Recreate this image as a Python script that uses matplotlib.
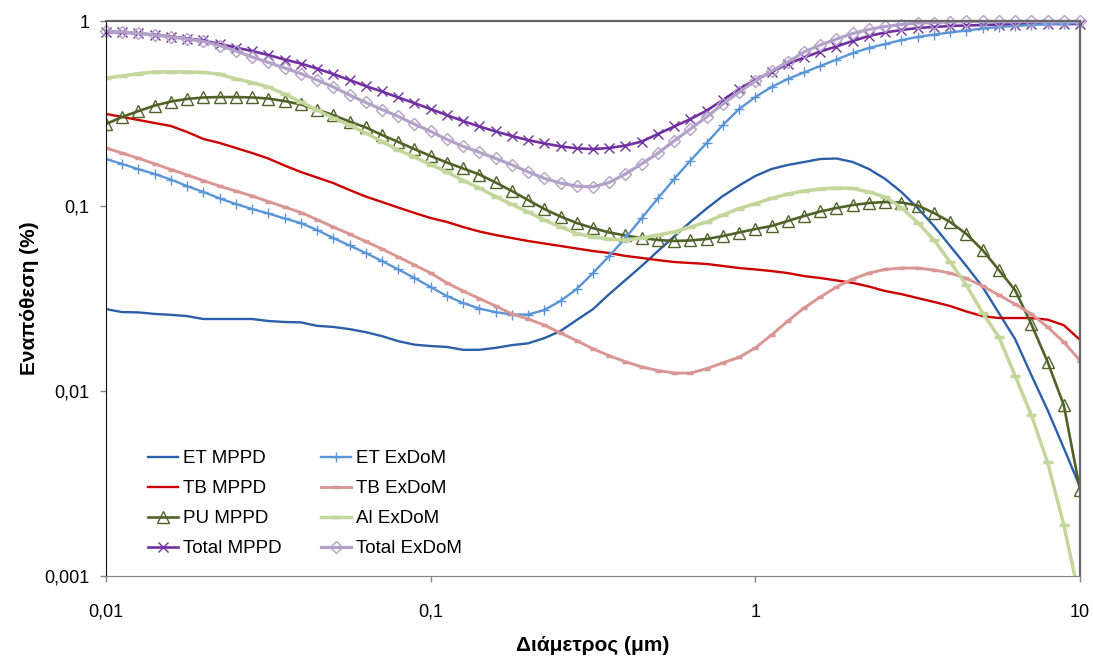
import matplotlib.pyplot as plt
import numpy as np

plt.rcParams['font.family'] = ['Liberation Sans', 'DejaVu Sans']

# particle diameter grid (um), 20 points per decade
diameter = np.logspace(-2, 1, 61)

et_mppd = [0.0277, 0.0267, 0.0266, 0.0261, 0.0258, 0.0254, 0.0245, 0.0245, 0.0245, 0.0245,
           0.0239, 0.0236, 0.0235, 0.0225, 0.0222, 0.0216, 0.0208, 0.0198, 0.0186, 0.0178,
           0.0175, 0.0173, 0.0167, 0.0167, 0.0171, 0.0177, 0.0181, 0.0193, 0.0211, 0.0242,
           0.0277, 0.0334, 0.0398, 0.0474, 0.0571, 0.0684, 0.0820, 0.0969, 0.1132, 0.129,
           0.1453, 0.1585, 0.1666, 0.1729, 0.1795, 0.1806, 0.1729, 0.1585, 0.1400, 0.1190,
           0.0975, 0.0780, 0.0608, 0.0474, 0.0365, 0.0264, 0.0191, 0.0122, 0.00790, 0.00492, 0.00303]

tb_mppd = [0.3145, 0.303, 0.2917, 0.2809, 0.2706, 0.2512, 0.2303, 0.2191, 0.2059, 0.1934,
           0.1806, 0.1655, 0.1527, 0.1426, 0.1331, 0.1220, 0.1125, 0.1051, 0.0981, 0.0917,
           0.0861, 0.0820, 0.0770, 0.0728, 0.0697, 0.0671, 0.0647, 0.0627, 0.0608, 0.0589,
           0.0571, 0.0557, 0.0537, 0.0524, 0.0510, 0.0498, 0.0492, 0.0486, 0.0474, 0.0462,
           0.0454, 0.0445, 0.0434, 0.0418, 0.0408, 0.0396, 0.0384, 0.0367, 0.0347, 0.0334,
           0.0318, 0.0303, 0.0288, 0.0269, 0.0254, 0.0248, 0.0248, 0.0248, 0.0243, 0.0227, 0.0189]

pu_mppd = [0.2775, 0.303, 0.326, 0.349, 0.367, 0.379, 0.386, 0.388, 0.388, 0.386,
           0.381, 0.369, 0.354, 0.332, 0.310, 0.286, 0.266, 0.242, 0.222, 0.203,
           0.1863, 0.1718, 0.1595, 0.1480, 0.1340, 0.1205, 0.1077, 0.0963, 0.0877, 0.0809,
           0.0760, 0.0719, 0.0693, 0.0671, 0.0655, 0.0647, 0.0651, 0.0663, 0.0688, 0.0719,
           0.0751, 0.0780, 0.0830, 0.0883, 0.0934, 0.0975, 0.1012, 0.1038, 0.1051, 0.1044,
           0.1006, 0.0917, 0.0820, 0.0706, 0.0578, 0.0451, 0.0351, 0.0230, 0.0144, 0.0084, 0.00292]

total_mppd = [0.872, 0.867, 0.856, 0.845, 0.824, 0.804, 0.785, 0.751, 0.719, 0.688,
              0.655, 0.619, 0.589, 0.553, 0.517, 0.480, 0.445, 0.416, 0.386, 0.360,
              0.334, 0.310, 0.288, 0.269, 0.253, 0.239, 0.227, 0.218, 0.210, 0.205,
              0.203, 0.206, 0.212, 0.223, 0.245, 0.269, 0.295, 0.328, 0.374, 0.429,
              0.480, 0.530, 0.586, 0.635, 0.684, 0.728, 0.780, 0.830, 0.867, 0.894,
              0.917, 0.928, 0.940, 0.946, 0.951, 0.957, 0.957, 0.963, 0.963, 0.963, 0.963]

et_exdom = [0.1795, 0.1687, 0.158, 0.149, 0.139, 0.128, 0.119, 0.110, 0.1025, 0.0963,
            0.0911, 0.0856, 0.0809, 0.0742, 0.0671, 0.0612, 0.0557, 0.0504, 0.0454, 0.0408,
            0.0365, 0.0326, 0.0299, 0.0279, 0.0267, 0.0259, 0.0259, 0.0274, 0.0307, 0.0356,
            0.0434, 0.0537, 0.0671, 0.0861, 0.110, 0.140, 0.176, 0.219, 0.274, 0.334,
            0.388, 0.440, 0.486, 0.527, 0.571, 0.619, 0.671, 0.715, 0.751, 0.789,
            0.820, 0.845, 0.867, 0.888, 0.911, 0.928, 0.940, 0.951, 0.963, 0.969, 0.975]

tb_exdom = [0.206, 0.193, 0.181, 0.169, 0.1575, 0.147, 0.1373, 0.128, 0.1205, 0.1132,
            0.1057, 0.0988, 0.0922, 0.0845, 0.0770, 0.0706, 0.0643, 0.0586, 0.0530, 0.0480,
            0.0434, 0.0384, 0.0347, 0.0316, 0.0288, 0.0261, 0.0245, 0.0227, 0.0206, 0.0187,
            0.0169, 0.0155, 0.0144, 0.0135, 0.0129, 0.0125, 0.0125, 0.0132, 0.0142, 0.0152,
            0.0171, 0.0201, 0.0239, 0.0281, 0.0322, 0.0365, 0.0403, 0.0434, 0.0454, 0.0462,
            0.0462, 0.0451, 0.0434, 0.0406, 0.0369, 0.0330, 0.0295, 0.0261, 0.0222, 0.0184, 0.0146]

al_exdom = [0.492, 0.504, 0.520, 0.530, 0.530, 0.530, 0.527, 0.517, 0.486, 0.465,
            0.440, 0.403, 0.365, 0.330, 0.299, 0.274, 0.248, 0.223, 0.2008, 0.184,
            0.1676, 0.1527, 0.1373, 0.1251, 0.1125, 0.1019, 0.0928, 0.0840, 0.0770, 0.0710,
            0.0680, 0.0663, 0.0655, 0.0671, 0.0697, 0.0724, 0.0770, 0.0820, 0.0894, 0.0969,
            0.1031, 0.1098, 0.1161, 0.1205, 0.1236, 0.1251, 0.1244, 0.1190, 0.1118, 0.0981,
            0.0814, 0.0655, 0.0498, 0.0374, 0.0264, 0.0196, 0.0121, 0.00742, 0.00413, 0.00189, 0.00074]

total_exdom = [0.883, 0.872, 0.856, 0.840, 0.820, 0.799, 0.775, 0.737, 0.688, 0.639,
               0.597, 0.557, 0.520, 0.480, 0.440, 0.398, 0.363, 0.332, 0.305, 0.277,
               0.253, 0.229, 0.210, 0.195, 0.181, 0.167, 0.153, 0.141, 0.133, 0.128,
               0.127, 0.134, 0.149, 0.169, 0.193, 0.225, 0.261, 0.303, 0.356, 0.413,
               0.474, 0.537, 0.600, 0.680, 0.742, 0.799, 0.856, 0.900, 0.934, 0.957,
               0.975, 0.981, 0.988, 0.994, 0.994, 0.994, 0.994, 0.994, 0.994, 0.994, 0.994]

x_ticks = [0.01, 0.1, 1, 10]
x_ticklabels = ['0,01', '0,1', '1', '10']
y_ticks = [0.001, 0.01, 0.1, 1]
y_ticklabels = ['0,001', '0,01', '0,1', '1']

fig = plt.figure(figsize=(10.93, 6.57), dpi=100)
ax = fig.add_axes([106 / 1093, 1 - 576 / 657, 974 / 1093, 555 / 657])

ax.plot(diameter, et_mppd, color='#2c5fa8', lw=1.7, label='ET MPPD')
ax.plot(diameter, tb_mppd, color='#cc0000', lw=1.7, label='TB MPPD')
ax.plot(diameter, pu_mppd, color='#4f6228', lw=1.9, marker='^', ms=8, mfc='none',
        mec='#4f6228', mew=1.0, label='PU MPPD')
ax.plot(diameter, total_mppd, color='#7030a0', lw=1.9, marker='x', ms=7, mew=1.0,
        label='Total MPPD', clip_on=False)
ax.plot(diameter, et_exdom, color='#5a95d8', lw=1.7, marker='+', ms=7, mew=1.0,
        label='ET ExDoM')
ax.plot(diameter, tb_exdom, color='#d99694', lw=2.1, marker='_', ms=5, mew=2.5,
        label='TB ExDoM')
ax.plot(diameter, al_exdom, color='#c3d69b', lw=2.5, marker='_', ms=7, mew=2.5,
        label='Al ExDoM')
ax.plot(diameter, total_exdom, color='#b3a2c7', lw=2.3, marker='D', ms=6.5, mfc='none',
        mec='#b3a2c7', mew=1.0, label='Total ExDoM', clip_on=False)

ax.set_xscale('log')
ax.set_yscale('log')
ax.set_xlim(0.01, 10)
ax.set_ylim(0.001, 1)
ax.set_xticks(x_ticks)
ax.set_xticklabels(x_ticklabels)
ax.set_yticks(y_ticks)
ax.set_yticklabels(y_ticklabels)
ax.minorticks_off()
ax.tick_params(axis='both', direction='out', length=4, width=1, color='#868686',
               labelsize=13)
ax.tick_params(axis='x', pad=16)
ax.tick_params(axis='y', pad=8)

for side in ['top', 'right']:
    ax.spines[side].set_color('#666666')
    ax.spines[side].set_linewidth(1.6)
ax.spines['bottom'].set_color('#868686')
ax.spines['left'].set_color('#111111')

ax.set_xlabel('Διάμετρος (μm)', fontsize=15, fontweight='bold', labelpad=11)
ax.set_ylabel('Εναπόθεση (%)', fontsize=15, fontweight='bold', labelpad=4)

ax.legend(loc='upper left', bbox_to_anchor=(0.043, 0.227), ncol=2, frameon=False,
          fontsize=13.5, numpoints=1, handlelength=1.6, handletextpad=0.28,
          labelspacing=0.69, columnspacing=2.1, borderpad=0, borderaxespad=0)

plt.savefig('out.png', dpi=100)
